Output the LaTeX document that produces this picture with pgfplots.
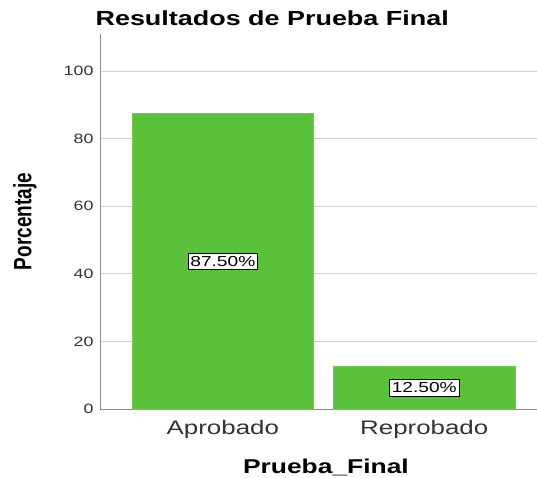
\documentclass[border=0pt]{standalone}
\usepackage{fontspec}
\setmainfont{Liberation Sans}[FakeStretch=1.32]
\newfontfamily\ylabfont{Liberation Sans}
\usepackage{pgfplots}
\pgfplotsset{compat=1.18}
\definecolor{bargreen}{HTML}{5CC13A}
\definecolor{gridgray}{HTML}{CFCFCF}
\definecolor{axgray}{HTML}{8C8C8C}
\definecolor{ticktext}{HTML}{333333}
\begin{document}
\begin{tikzpicture}
\begin{axis}[
  scale only axis,
  width=437bp, height=375bp,
  xmin=-0.61, xmax=1.56,
  ymin=0, ymax=111,
  axis x line*=bottom,
  axis y line*=left,
  axis line style={axgray, line width=0.9bp},
  xtick={0,1},
  xticklabels={Aprobado,Reprobado},
  ytick={0,20,40,60,80,100},
  major tick length=0pt,
  ymajorgrids,
  grid style={gridgray, line width=0.8bp},
  /pgf/number format/assume math mode=true,
  x tick label style={font=\fontsize{19.6bp}{22bp}\selectfont, text=ticktext, yshift=-8bp},
  y tick label style={font=\fontsize{13.5bp}{15bp}\selectfont, text=ticktext, xshift=-3bp},
  title={Resultados de Prueba Final},
  title style={font=\fontsize{20.4bp}{24bp}\selectfont\bfseries, at={(rel axis cs:0.394,1.027)}, anchor=center},
  xlabel={Prueba\_Final},
  xlabel style={font=\fontsize{20bp}{24bp}\selectfont\bfseries, inner sep=0pt, at={(rel axis cs:0.517,-0.155)}, anchor=center},
  ylabel={\scalebox{1}[1.32]{\ylabfont\fontsize{19bp}{22bp}\selectfont\bfseries Porcentaje}},
  ylabel style={at={(rel axis cs:-0.172,0.5)}, anchor=center, rotate=0},
  clip=false,
]
\addplot[ybar, bar width=0.9, fill=bargreen, draw=bargreen!85!white, line width=0.6bp]
  coordinates {(0,87.5) (1,12.5)};
\addplot[only marks, mark=none, nodes near coords, point meta=explicit symbolic,
  every node near coord/.style={anchor=center, fill=white, draw=black, line width=0.7bp,
    inner xsep=2.5bp, inner ysep=3bp, font=\fontsize{14.5bp}{16bp}\selectfont, text=black}]
  coordinates {(0,43.75) [87.50\%] (1,6.25) [12.50\%]};
\end{axis}
\pgfresetboundingbox
\useasboundingbox (-100bp,-69bp) rectangle (437bp,409bp);
\end{tikzpicture}
\end{document}
